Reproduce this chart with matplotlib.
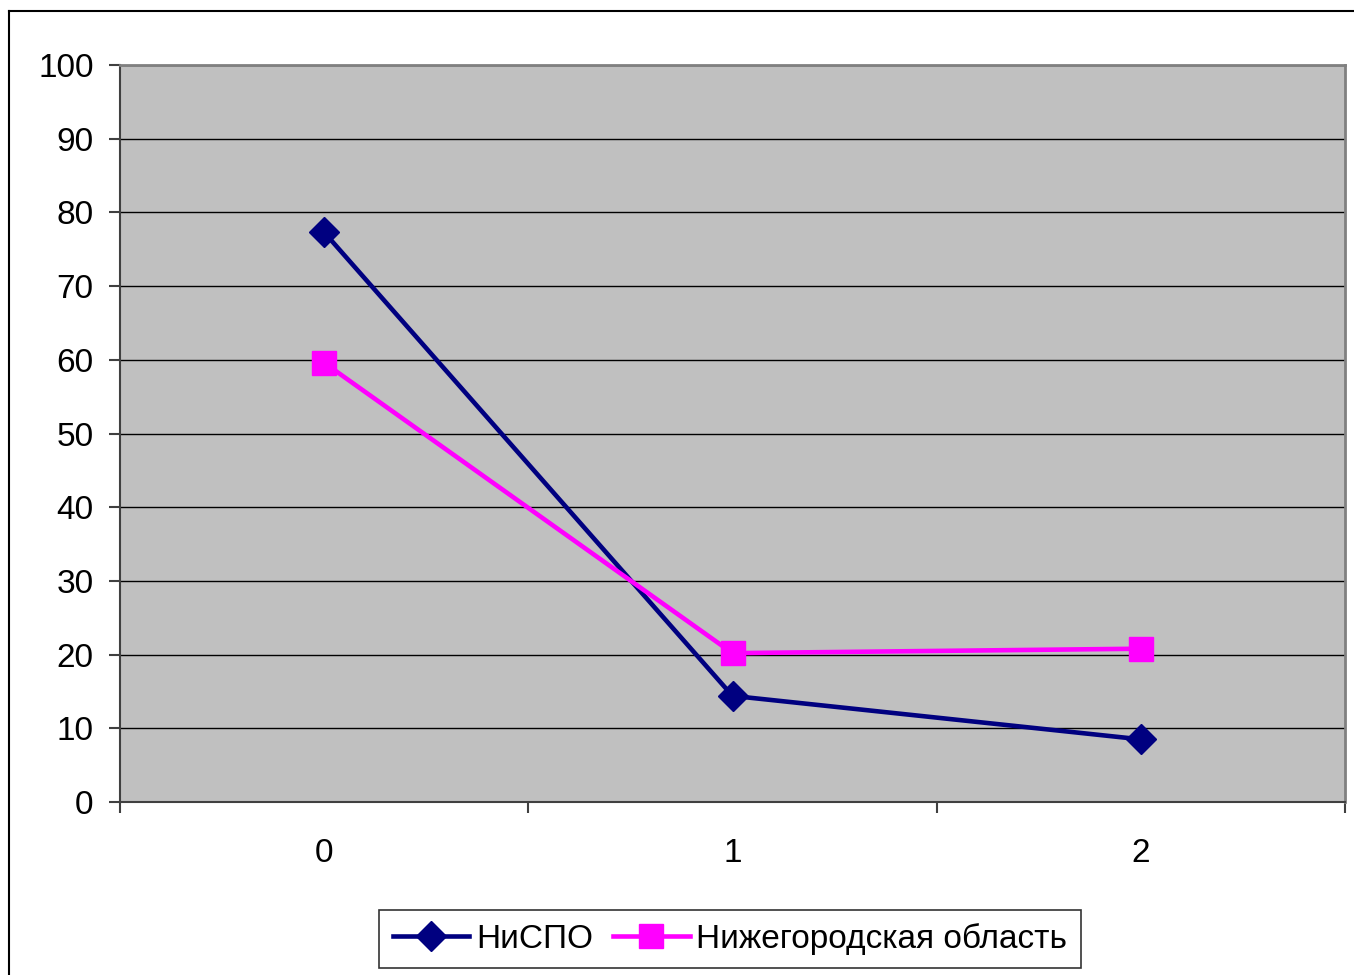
import matplotlib
matplotlib.use("Agg")
import matplotlib.pyplot as plt
from matplotlib.lines import Line2D

categories = ["0", "1", "2"]
nispo = [77.3, 14.4, 8.5]
nizhegorod = [59.6, 20.2, 20.8]
series_names = ["НиСПО", "Нижегородская область"]
yticks = list(range(0, 101, 10))

plt.rcParams['font.family'] = ['Liberation Sans', 'DejaVu Sans']

W, H = 1354, 975
fig = plt.figure(figsize=(W/100, H/100), dpi=100)
fig.patch.set_facecolor('white')

# outer frame
fig.add_artist(Line2D([9/W, 9/W], [0, 1-11/H], color='black', lw=1.5, transform=fig.transFigure))
fig.add_artist(Line2D([9/W, 1], [1-11/H, 1-11/H], color='black', lw=1.5, transform=fig.transFigure))

l, r, t, b = 120, 1345, 65, 802
ax = fig.add_axes([l/W, 1-b/H, (r-l)/W, (b-t)/H])
ax.set_facecolor('#c0c0c0')

x = list(range(len(categories)))
ax.plot(x, nispo, color='#000080', lw=3.3, marker='D', markersize=15, label=series_names[0], zorder=3)
ax.plot(x, nizhegorod, color='#ff00ff', lw=3.3, marker='s', markersize=17, label=series_names[1], zorder=3)

ax.set_xlim(-0.5, 2.5)
ax.set_ylim(0, 100)
ax.set_yticks(yticks)
ax.set_yticklabels([str(v) for v in yticks], fontsize=24)
ax.yaxis.grid(True, color='black', lw=1)
ax.set_axisbelow(True)

ax.set_xticks([-0.5, 0.5, 1.5, 2.5])
ax.set_xticklabels([])
ax.set_xticks(x, minor=True)
ax.set_xticklabels(categories, minor=True, fontsize=24)
ax.tick_params(axis='x', which='minor', length=0, pad=26)
ax.tick_params(axis='x', which='major', length=8, direction='out', color='#404040', width=1.5)
ax.tick_params(axis='y', length=8, direction='out', color='#404040', width=1.5, pad=11)

for s in ['top', 'right']:
    ax.spines[s].set_color('#808080')
    ax.spines[s].set_linewidth(2)
for s in ['left', 'bottom']:
    ax.spines[s].set_color('#404040')
    ax.spines[s].set_linewidth(1.5)

leg = fig.legend(loc='center', bbox_to_anchor=((386+1074)/2/W, 1-939/H),
                 ncol=2, fontsize=24, frameon=True, fancybox=False,
                 edgecolor='black', handlelength=2.3, columnspacing=0.6,
                 handletextpad=0.2, borderpad=0.4)
leg.get_frame().set_linewidth(1.2)

fig.savefig('out.png', dpi=100)
